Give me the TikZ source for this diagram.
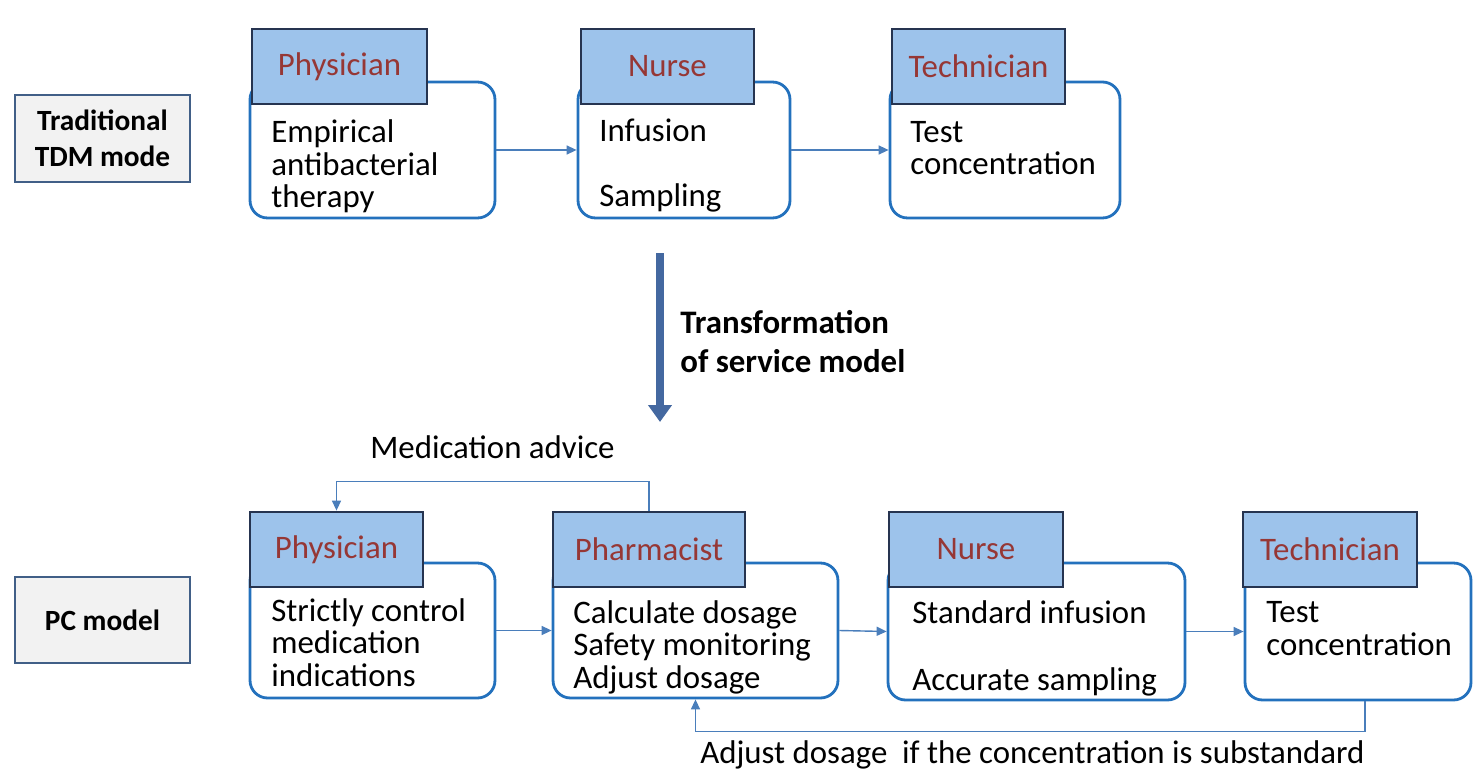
\documentclass[tikz,border=0pt]{standalone}
\usepackage{fontspec}
\setmainfont{Carlito}
\usetikzlibrary{arrows.meta, positioning, calc}
\definecolor{bodyblue}{RGB}{35,113,189}
\definecolor{flowblue}{RGB}{74,126,187}
\definecolor{headfill}{RGB}{157,195,235}
\definecolor{headedge}{RGB}{38,52,80}
\definecolor{rolered}{RGB}{150,55,53}
\definecolor{modefill}{RGB}{242,242,242}
\definecolor{modeedge}{RGB}{65,95,135}
\definecolor{turnblue}{RGB}{68,104,160}

\begin{document}
\begin{tikzpicture}[x=0.02cm, y=-0.02cm,
        modebox/.style={draw=modeedge, line width=1.4pt, fill=modefill, minimum width=3.5cm, minimum height=1.74cm, align=center, font=\fontsize{16.7}{20.4}\selectfont\bfseries},
        rolebody/.style={draw=bodyblue, line width=1.6pt, rounded corners=0.35cm, fill=white, minimum height=2.72cm},
        rolehead/.style={draw=headedge, line width=1.6pt, fill=headfill, text=rolered, minimum width=3.46cm, minimum height=1.5cm, font=\fontsize{18.7}{18.5}\selectfont},
        roletext/.style={anchor=base west, align=left, inner sep=0pt, font=\fontsize{18.7}{18.5}\selectfont},
        note/.style={anchor=base west, align=left, inner sep=0pt, font=\fontsize{18.7}{18.5}\selectfont},
        flow/.style={draw=flowblue, line width=0.8pt, -{Triangle[length=0.2cm, width=0.18cm]}},
        turnarrow/.style={draw=turnblue, line width=4pt, -{Triangle[length=0.34cm, width=0.46cm]}}
    ]
        \useasboundingbox (0,0) rectangle (1473,770);

        % Modes
        \node[modebox] (tdm) at (102.5,138.5) {Traditional\\TDM mode};
        \node[modebox, minimum height=1.72cm] (pc) at (102.5,620) {PC model};

        % Blocks (traditional)
        \node[rolebody, minimum width=4.9cm] (phyA) at (372.5,150) {};
        \node[rolebody, minimum width=4.24cm] (nurA) at (684,150) {};
        \node[rolebody, minimum width=4.6cm] (tecA) at (1005,150) {};
        \node[rolehead, minimum width=3.5cm] (phyAh) at (339.5,66.5) {Physician};
        \node[rolehead] (nurAh) at (667.5,66.5) {Nurse};
        \node[rolehead] (tecAh) at (978.5,66.5) {Technician};
        \node[roletext] (phyAt) at (271,208) {Empirical\\antibacterial\\therapy};
        \node[roletext] (nurAt) at (599,207) {Infusion\\[0.66cm]Sampling};
        \node[roletext] (tecAt) at (910,175) {Test\\concentration};

        % Blocks (PC)
        \node[rolebody, minimum width=4.9cm, minimum height=2.7cm] (phyB) at (372.5,630.5) {};
        \node[rolebody, minimum width=5.7cm, minimum height=2.7cm] (phaB) at (695.5,630.5) {};
        \node[rolebody, minimum width=5.94cm, minimum height=2.74cm] (nurB) at (1036.5,631.5) {};
        \node[rolebody, minimum width=4.52cm, minimum height=2.74cm] (tecB) at (1358,631.5) {};
        \node[rolehead] (phyBh) at (336.5,549.5) {Physician};
        \node[rolehead, minimum width=3.84cm] (phaBh) at (649,549.5) {Pharmacist};
        \node[rolehead, minimum width=3.48cm] (nurBh) at (976,549.5) {Nurse};
        \node[rolehead, minimum width=3.48cm] (tecBh) at (1330,549.5) {Technician};
        \node[roletext] (phyBt) at (271,686) {Strictly control\\medication\\indications};
        \node[roletext] (phaBt) at (573,688) {Calculate dosage\\Safety monitoring\\Adjust dosage};
        \node[roletext] (nurBt) at (912,690) {Standard infusion\\[0.68cm]Accurate sampling};
        \node[roletext] (tecBt) at (1266,655) {Test\\concentration};

        % Labels
        \coordinate (turnA) at (660,253);
        \coordinate (turnB) at (660,422);
        \node[note, font=\fontsize{18.7}{22.1}\selectfont\bfseries] (turn) at (680,372) {Transformation\\of service model};
        \node[note] (advice) at (370,458) {Medication advice};
        \node[note] (adjust) at (700,763) {Adjust dosage\ \ if the concentration is substandard};

        % Arrows
        \draw[turnarrow] (turnA) -- (turnB);
        \draw[flow] (phyA) -- (nurA);
        \draw[flow] (nurA.east) -- (tecA.west);
        \draw[flow] (phyB) -- (phaB);
        \draw[flow] (phaB.east) -- (nurB.west);
        \draw[flow] (nurB.east) -- (tecB.west);
        \draw[flow] (phaBh.north) -- ++(0,-29) -| (phyBh.north);
        \draw[flow] ([xshift=0.14cm]tecB.south) -- ++(0,30) -| (phaB.south);
    \end{tikzpicture}
\end{document}
